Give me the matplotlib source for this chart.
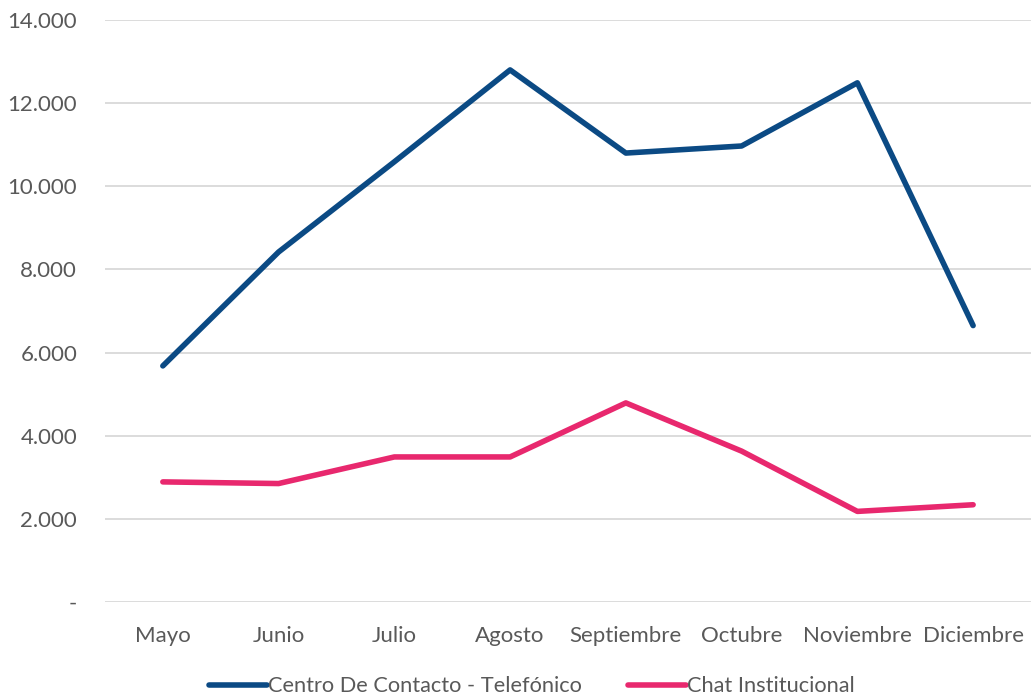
import matplotlib.pyplot as plt
from matplotlib.ticker import FuncFormatter

meses = ["Mayo", "Junio", "Julio", "Agosto", "Septiembre", "Octubre", "Noviembre", "Diciembre"]
telefonico = [5680, 8420, 10590, 12800, 10800, 10970, 12490, 6650]
chat = [2890, 2850, 3490, 3490, 4790, 3630, 2180, 2340]

plt.rcParams['font.family'] = ['Lato', 'DejaVu Sans']
gris = "#595959"

fig = plt.figure(figsize=(10.31, 6.98), dpi=100)
ax = fig.add_axes([0.1018, 0.1375, 0.8982, 0.8338])

x = range(len(meses))
ax.plot(x, telefonico, color="#0B4A84", lw=4, solid_capstyle="round",
        solid_joinstyle="round", label="Centro De Contacto - Telefónico")
ax.plot(x, chat, color="#E8286E", lw=4, solid_capstyle="round",
        solid_joinstyle="round", label="Chat Institucional")

ax.set_xlim(-0.5, len(meses) - 0.5)
ax.set_ylim(0, 14000)
ax.set_yticks(range(0, 14001, 2000))
ax.yaxis.set_major_formatter(FuncFormatter(
    lambda v, p: "-" if v == 0 else f"{int(v):,}".replace(",", ".")))
ax.set_xticks(list(x))
ax.set_xticklabels(meses)
ax.tick_params(axis="both", length=0, labelsize=16, labelcolor=gris)
ax.tick_params(axis="y", pad=20)
ax.tick_params(axis="x", pad=17)
ax.grid(axis="y", color="#D9D9D9", lw=1.3)
ax.set_axisbelow(True)
for s in ax.spines.values():
    s.set_visible(False)

leg = fig.legend(loc="center", bbox_to_anchor=(0.516, 0.017), ncol=2, frameon=False,
                 fontsize=15.7, handlelength=2.66, handletextpad=0.05, columnspacing=2.1,
                 borderaxespad=0)
for t in leg.get_texts():
    t.set_color(gris)

fig.savefig("out.png", dpi=100)
